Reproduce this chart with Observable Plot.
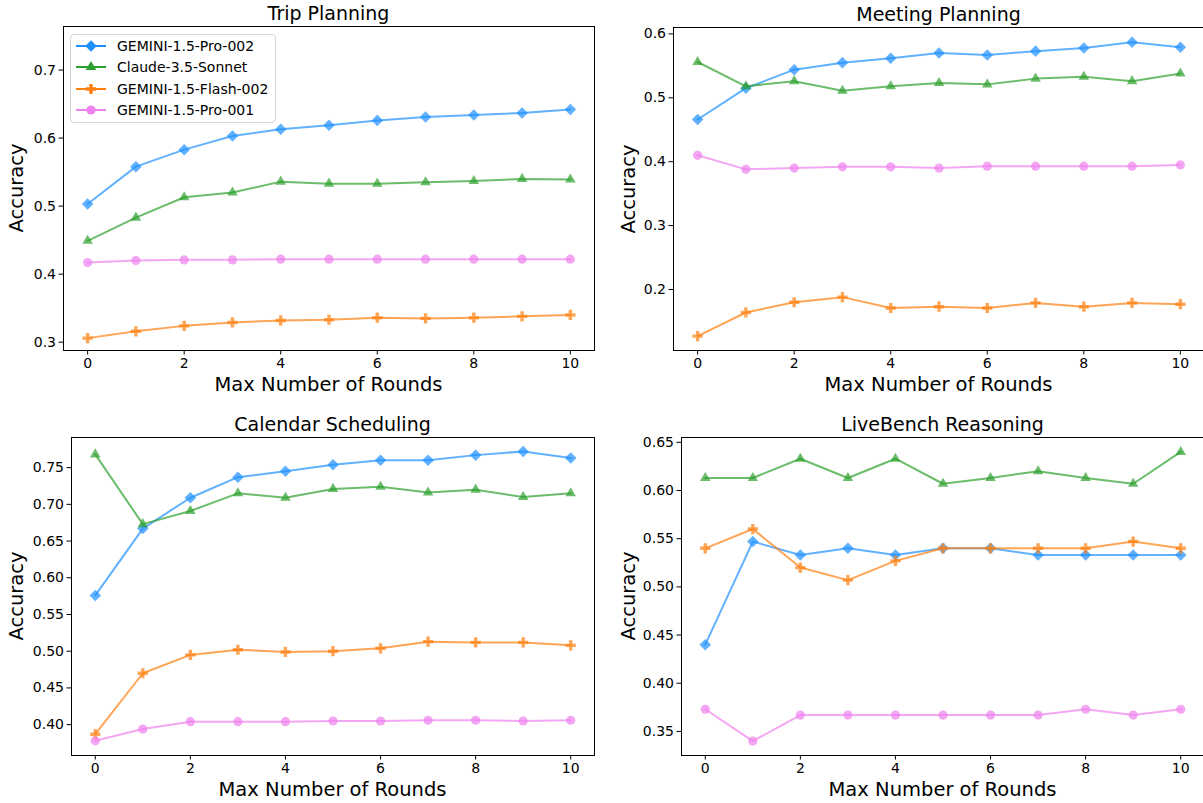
<!DOCTYPE html>
<html><head><meta charset="utf-8">
<script src="https://cdn.jsdelivr.net/npm/d3@7"></script>
<script src="https://cdn.jsdelivr.net/npm/@observablehq/plot@0.6"></script>
<style>
body{margin:0;background:#fff;overflow:hidden}
#root{position:relative;width:1203px;height:803px;overflow:hidden;font-family:"DejaVu Sans",sans-serif;color:#000;background:#fff}
.lbl{position:absolute;font-size:19px;white-space:nowrap;transform:translate(-50%,-50%);line-height:1}
.xlbl{position:absolute;font-size:19.5px;white-space:nowrap;transform:translate(-50%,-50%);line-height:1}
.ylbl{position:absolute;font-size:19.5px;white-space:nowrap;transform:translate(-50%,-50%) rotate(-90deg);line-height:1}
.legend{position:absolute;left:70px;top:34px;width:206px;height:89px;border:1px solid #d4d4d4;border-radius:4px;background:rgba(255,255,255,0.85);box-sizing:border-box}
.legend .row{position:absolute;left:0;height:20px;display:flex;align-items:center;font-size:14px;white-space:nowrap}
.legend svg{margin-left:5px;margin-right:11px}
</style></head><body><div id="root"></div>
<script>
// ---- data ----
const rounds = [0,1,2,3,4,5,6,7,8,9,10];
const models = ["GEMINI-1.5-Pro-002","Claude-3.5-Sonnet","GEMINI-1.5-Flash-002","GEMINI-1.5-Pro-001"];
const colors = ["#1e90ff","#2ca02c","#ff7f0e","#ee82ee"];
const symbols = ["diamond2","triangle","cross","circle"];
const symbolR = [5.2,3.9,4.3,4.6];

const titles = ["Trip Planning","Meeting Planning","Calendar Scheduling","LiveBench Reasoning"];

const tripPro002   = [0.503,0.558,0.583,0.603,0.613,0.619,0.626,0.631,0.634,0.637,0.642];
const tripClaude   = [0.449,0.483,0.513,0.520,0.536,0.533,0.533,0.535,0.537,0.540,0.539];
const tripFlash002 = [0.306,0.316,0.324,0.329,0.332,0.333,0.336,0.335,0.336,0.338,0.340];
const tripPro001   = [0.417,0.420,0.421,0.421,0.422,0.422,0.422,0.422,0.422,0.422,0.422];

const meetPro002   = [0.466,0.515,0.544,0.555,0.562,0.570,0.567,0.573,0.578,0.587,0.579];
const meetClaude   = [0.556,0.518,0.526,0.511,0.518,0.523,0.521,0.530,0.533,0.526,0.538];
const meetFlash002 = [0.127,0.164,0.180,0.188,0.171,0.173,0.171,0.179,0.173,0.179,0.177];
const meetPro001   = [0.410,0.388,0.390,0.392,0.392,0.390,0.393,0.393,0.393,0.393,0.395];

const calPro002    = [0.576,0.667,0.709,0.737,0.745,0.754,0.760,0.760,0.767,0.772,0.763];
const calClaude    = [0.768,0.673,0.691,0.715,0.709,0.721,0.724,0.716,0.720,0.710,0.715];
const calFlash002  = [0.387,0.470,0.495,0.502,0.499,0.500,0.504,0.513,0.512,0.512,0.508];
const calPro001    = [0.378,0.394,0.404,0.404,0.404,0.405,0.405,0.406,0.406,0.405,0.406];

const livePro002   = [0.440,0.547,0.533,0.540,0.533,0.540,0.540,0.533,0.533,0.533,0.533];
const liveClaude   = [0.613,0.613,0.633,0.613,0.633,0.607,0.613,0.620,0.613,0.607,0.640];
const liveFlash002 = [0.540,0.560,0.520,0.507,0.527,0.540,0.540,0.540,0.540,0.547,0.540];
const livePro001   = [0.373,0.340,0.367,0.367,0.367,0.367,0.367,0.367,0.373,0.367,0.373];

const xTicks = [0,2,4,6,8,10];
const yTicksTrip = [0.3,0.4,0.5,0.6,0.7];
const yTicksMeet = [0.2,0.3,0.4,0.5,0.6];
const yTicksCal  = [0.40,0.45,0.50,0.55,0.60,0.65,0.70,0.75];
const yTicksLive = [0.35,0.40,0.45,0.50,0.55,0.60,0.65];

// ---- layout ----
const panels = [
  {series:[tripPro002,tripClaude,tripFlash002,tripPro001], yTicks:yTicksTrip, fmt:".1f", yDomain:[0.2878,0.764],
   left:0, top:0, width:600, height:400, mL:63, mR:6, mT:26, mB:50, yl:17},
  {series:[meetPro002,meetClaude,meetFlash002,meetPro001], yTicks:yTicksMeet, fmt:".1f", yDomain:[0.1045,0.610],
   left:600, top:0, width:610, height:400, mL:73, mR:6, mT:27, mB:50, yl:29},
  {series:[calPro002,calClaude,calFlash002,calPro001], yTicks:yTicksCal, fmt:".2f", yDomain:[0.358,0.791],
   left:0, top:400, width:600, height:403, mL:71, mR:6, mT:37, mB:48, yl:17},
  {series:[livePro002,liveClaude,liveFlash002,livePro001], yTicks:yTicksLive, fmt:".2f", yDomain:[0.325,0.655],
   left:600, top:400, width:610, height:403, mL:81, mR:6, mT:37, mB:48, yl:29}
];

const root = document.getElementById("root");

panels.forEach((p, pi) => {
  const marks = [];
  p.series.forEach((vals, si) => {
    const data = rounds.map((r, i) => ({round: r, acc: vals[i]}));
    marks.push(Plot.line(data, {x:"round", y:"acc", stroke:colors[si], strokeWidth:2, strokeOpacity:0.7}));
    marks.push(Plot.dot(data, {x:"round", y:"acc", symbol:()=>symbols[si], r:symbolR[si], fill:colors[si], fillOpacity:0.7, stroke:"none"}));
  });
  marks.push(Plot.axisX({ticks:xTicks, tickSize:4.5, tickPadding:3, fontSize:14, label:null, tickFormat:d=>String(d)}));
  marks.push(Plot.axisY({ticks:p.yTicks, tickSize:4.5, tickPadding:3, fontSize:14, label:null, tickFormat:d3.format(p.fmt)}));
  marks.push(Plot.frame({stroke:"#000", strokeWidth:1}));
  const svg = Plot.plot({
    width:p.width, height:p.height,
    marginLeft:p.mL, marginRight:p.mR, marginTop:p.mT, marginBottom:p.mB,
    x:{domain:[-0.5,10.5]},
    y:{domain:p.yDomain},
    symbol:{type:"identity"},
    style:{fontFamily:"DejaVu Sans, sans-serif", color:"#000", background:"transparent", overflow:"visible"},
    marks
  });
  svg.style.position = "absolute";
  svg.style.left = p.left + "px";
  svg.style.top = p.top + "px";
  root.appendChild(svg);

  const fx0 = p.left + p.mL, fx1 = p.left + p.width - p.mR;
  const fy0 = p.top + p.mT, fy1 = p.top + p.height - p.mB;
  const cx = (fx0 + fx1) / 2;

  const t = document.createElement("div");
  t.className = "lbl"; t.textContent = titles[pi];
  t.style.left = cx + "px"; t.style.top = (fy0 - 13) + "px";
  root.appendChild(t);

  const xl = document.createElement("div");
  xl.className = "xlbl"; xl.textContent = "Max Number of Rounds";
  xl.style.left = cx + "px"; xl.style.top = (fy1 + 35) + "px";
  root.appendChild(xl);

  const yl = document.createElement("div");
  yl.className = "ylbl"; yl.textContent = "Accuracy";
  yl.style.left = (p.left + p.yl) + "px"; yl.style.top = ((fy0 + fy1) / 2) + "px";
  root.appendChild(yl);
});

// ---- legend (first panel) ----
const legend = document.createElement("div");
legend.className = "legend";
const symMap = {diamond2:d3.symbolDiamond2, triangle:d3.symbolTriangle, cross:d3.symbolCross, circle:d3.symbolCircle};
models.forEach((m, i) => {
  const row = document.createElement("div");
  row.className = "row";
  row.style.top = (1 + i * 21.3) + "px";
  const s = d3.create("svg").attr("width", 30).attr("height", 14);
  s.append("line").attr("x1",0).attr("x2",30).attr("y1",7).attr("y2",7).attr("stroke",colors[i]).attr("stroke-width",2);
  s.append("path").attr("transform","translate(15,7)")
    .attr("d", d3.symbol(symMap[symbols[i]], Math.PI * symbolR[i] * symbolR[i])())
    .attr("fill", colors[i]);
  row.appendChild(s.node());
  const tx = document.createElement("span");
  tx.textContent = m;
  row.appendChild(tx);
  legend.appendChild(row);
});
root.appendChild(legend);
</script>
</body></html>
